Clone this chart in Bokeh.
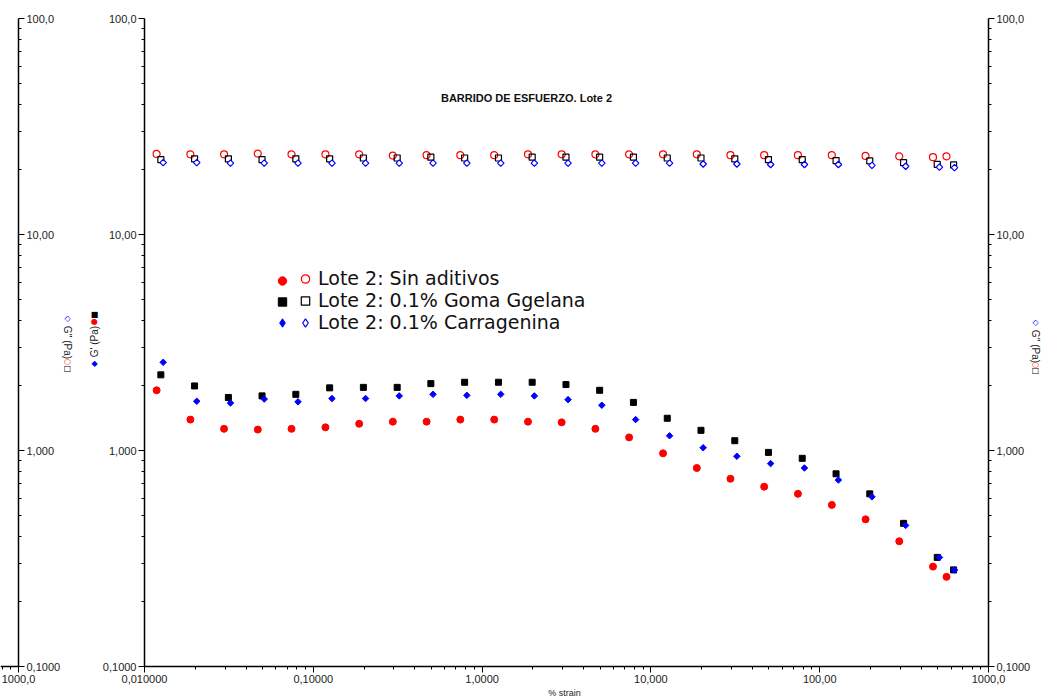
import math
from bokeh.plotting import figure
from bokeh.models import Range1d, FixedTicker, Label, Legend, LegendItem, LogAxis
from bokeh.embed import file_html
from bokeh.resources import INLINE

# ---------------- data ----------------
strain_sin = [0.0118, 0.0187, 0.0296, 0.0469, 0.0743, 0.118, 0.187, 0.296, 0.469, 0.743,
              1.18, 1.87, 2.96, 4.69, 7.43, 11.8, 18.7, 29.6, 46.9, 74.3, 118, 187, 296, 469, 564]
gp_sin = [1.90, 1.39, 1.26, 1.25, 1.26, 1.28, 1.33, 1.36, 1.36, 1.39, 1.39, 1.36, 1.35,
          1.26, 1.15, 0.97, 0.83, 0.74, 0.68, 0.63, 0.56, 0.48, 0.38, 0.29, 0.26]
gpp_sin = [23.6, 23.5, 23.5, 23.7, 23.5, 23.5, 23.5, 23.2, 23.3, 23.3, 23.3, 23.5, 23.5,
           23.5, 23.5, 23.5, 23.5, 23.3, 23.3, 23.3, 23.3, 23.1, 23.0, 22.8, 23.0]

strain_goma = [0.0125, 0.0198, 0.0314, 0.0497, 0.0788, 0.125, 0.198, 0.314, 0.497, 0.788,
               1.25, 1.98, 3.14, 4.97, 7.88, 12.5, 19.8, 31.4, 49.7, 78.8, 125, 198, 314, 497, 621]
gp_goma = [2.24, 1.99, 1.76, 1.79, 1.82, 1.95, 1.96, 1.96, 2.04, 2.07, 2.07, 2.07, 2.02,
           1.90, 1.67, 1.41, 1.24, 1.11, 0.98, 0.92, 0.78, 0.63, 0.46, 0.32, 0.28]
gpp_goma = [22.2, 22.4, 22.4, 22.2, 22.4, 22.4, 22.6, 22.6, 22.8, 22.6, 22.6, 22.8, 22.8,
            22.8, 22.8, 22.6, 22.6, 22.4, 22.2, 22.2, 22.0, 21.9, 21.5, 21.1, 21.0]

strain_carr = [0.0129, 0.0204, 0.0323, 0.0512, 0.0812, 0.129, 0.204, 0.323, 0.512, 0.812,
               1.29, 2.04, 3.23, 5.12, 8.12, 12.9, 20.4, 32.3, 51.2, 81.2, 129, 204, 323, 512, 629]
gp_carr = [2.56, 1.69, 1.66, 1.73, 1.68, 1.74, 1.74, 1.79, 1.82, 1.80, 1.82, 1.79, 1.72,
           1.62, 1.39, 1.17, 1.03, 0.94, 0.87, 0.83, 0.73, 0.61, 0.45, 0.32, 0.28]
gpp_carr = [21.5, 21.5, 21.4, 21.4, 21.4, 21.4, 21.4, 21.4, 21.4, 21.4, 21.4, 21.4, 21.4,
            21.4, 21.4, 21.4, 21.2, 21.2, 21.1, 21.1, 21.1, 20.9, 20.7, 20.5, 20.4]

series_labels = ["Lote 2: Sin aditivos", "Lote 2: 0.1% Goma Ggelana", "Lote 2: 0.1% Carragenina"]
title_text = "BARRIDO DE ESFUERZO. Lote 2"
x_label = "% strain"
y_left_label = "G' (Pa)"
y_right_label = "G'' (Pa)"

x_ticks = [0.01, 0.1, 1, 10, 100, 1000]
x_tick_labels = ["0,010000", "0,10000", "1,0000", "10,000", "100,00", "1000,0"]
y_ticks = [0.1, 1, 10, 100]
y_tick_labels = ["0,1000", "1,000", "10,00", "100,0"]

RED = "#ff0000"
BLUE = "#0000ff"
BLACK = "#000000"
TXT = "#222222"
TICK_FONT = "Liberation Sans"

# ---------------- page geometry (layout only) ----------------
W, H = 1050, 696
PX_LEFT, PX_RIGHT = 144, 988      # x = 0.01 ... 1000
PY_TOP, PY_BOTTOM = 18, 666       # y = 100 ... 0.1
PPD_X = (PX_RIGHT - PX_LEFT) / 5.0
PPD_Y = (PY_BOTTOM - PY_TOP) / 3.0
GHOST_PX = 970                    # ghost copy of the right axis, shifted left
GHOST = 10 ** (-GHOST_PX / PPD_X)

x_start = 10 ** (-2 - PX_LEFT / PPD_X)
x_end = 10 ** (3 + (W - PX_RIGHT) / PPD_X)
y_end = 10 ** (2 + PY_TOP / PPD_Y)
y_start = 10 ** (-1 - (H - PY_BOTTOM) / PPD_Y)

x_minor = [m * 10.0 ** e for e in range(-2, 3) for m in range(2, 10)]
y_minor = [m * 10.0 ** e for e in range(-1, 2) for m in range(2, 10)]

p = figure(width=W, height=H, x_axis_type="log", y_axis_type="log",
           x_range=Range1d(x_start, x_end), y_range=Range1d(y_start, y_end),
           x_axis_location=None, y_axis_location=None,
           output_backend="svg", toolbar_location=None,
           min_border_left=0, min_border_right=0, min_border_top=0, min_border_bottom=0)
p.outline_line_color = None
p.xgrid.visible = False
p.ygrid.visible = False
p.background_fill_color = "white"


def style_axis(ax):
    ax.axis_line_color = BLACK
    ax.axis_line_width = 1.5
    ax.major_tick_out = 6
    ax.major_tick_in = 0
    ax.minor_tick_out = 3
    ax.minor_tick_in = 0
    ax.major_tick_line_color = BLACK
    ax.minor_tick_line_color = BLACK
    ax.major_label_text_font = TICK_FONT
    ax.major_label_text_font_size = "11px"
    ax.major_label_text_color = TXT
    ax.major_label_standoff = 2
    return ax


def y_axis(loc):
    ax = LogAxis(ticker=FixedTicker(ticks=y_ticks, minor_ticks=y_minor),
                 major_label_overrides=dict(zip(y_ticks, y_tick_labels)),
                 bounds=(y_ticks[0], y_ticks[-1]), fixed_location=loc)
    return style_axis(ax)


# main axes
bottom = style_axis(LogAxis(ticker=FixedTicker(ticks=x_ticks, minor_ticks=x_minor),
                            major_label_overrides=dict(zip(x_ticks, x_tick_labels)),
                            bounds=(x_ticks[0], x_ticks[-1]), fixed_location=y_ticks[0]))
p.add_layout(bottom, "below")
p.add_layout(y_axis(x_ticks[0]), "left")
p.add_layout(y_axis(x_ticks[-1]), "right")

# ghost copy of the right axis at the far left edge
p.add_layout(y_axis(x_ticks[-1] * GHOST), "right")
ghost_bottom = style_axis(LogAxis(ticker=FixedTicker(ticks=[x_ticks[-1] * GHOST],
                                                     minor_ticks=[800 * GHOST, 900 * GHOST]),
                                  major_label_overrides={x_ticks[-1] * GHOST: x_tick_labels[-1]},
                                  bounds=(x_start, x_ticks[-1] * GHOST), fixed_location=y_ticks[0]))
p.add_layout(ghost_bottom, "below")

# ---------------- data ----------------
f_sin = p.scatter(strain_sin, gp_sin, marker="circle", size=7, fill_color=RED, line_color=RED)
h_sin = p.scatter(strain_sin, gpp_sin, marker="circle", size=7, fill_color=None, line_color=RED, line_width=1.2)
f_goma = p.scatter(strain_goma, gp_goma, marker="square", size=6, fill_color=BLACK, line_color=BLACK)
h_goma = p.scatter(strain_goma, gpp_goma, marker="square", size=6, fill_color=None, line_color=BLACK, line_width=1.2)
# diamond glyphs used for the legend symbols (sit underneath the rotated squares)
lg_f_carr = p.scatter(strain_carr, gp_carr, marker="diamond", size=4, fill_color=BLUE, line_color=BLUE)
lg_h_carr = p.scatter(strain_carr, gpp_carr, marker="diamond", size=4, fill_color=None, line_color=BLUE, line_width=1.2)
f_carr = p.scatter(strain_carr, gp_carr, marker="square", angle=math.pi / 4, size=4.6,
                   fill_color=BLUE, line_color=BLUE)
h_carr = p.scatter(strain_carr, gpp_carr, marker="square", angle=math.pi / 4, size=4.6,
                   fill_color="white", line_color=BLUE, line_width=1.2)


def make_legend(items, x):
    return Legend(items=items, location=(x, H - 333), orientation="vertical",
                  glyph_width=22, glyph_height=21, label_height=21, spacing=0,
                  padding=0, margin=0, label_standoff=2,
                  label_text_font="DejaVu Sans", label_text_font_size="19px",
                  label_text_color="#111111", border_line_color=None,
                  background_fill_alpha=0)


legend_filled = make_legend([LegendItem(label=" ", renderers=[r]) for r in (f_sin, f_goma, lg_f_carr)], 271)
legend_hollow = make_legend([LegendItem(label=lab, renderers=[r])
                             for lab, r in zip(series_labels, (h_sin, h_goma, lg_h_carr))], 294)
p.add_layout(legend_filled, "center")
p.add_layout(legend_hollow, "center")


def page_label(text, px, py, size="10px", color=TXT, angle=0.0, bold=False,
               align="center", baseline="middle", font=TICK_FONT):
    p.add_layout(Label(x=px, y=H - py, x_units="screen", y_units="screen", text=text,
                       angle=angle, text_font=font, text_font_size=size,
                       text_font_style="bold" if bold else "normal", text_color=color,
                       text_align=align, text_baseline=baseline))


page_label(title_text, 526, 97, size="11px", color="#111111", bold=True)
page_label(x_label, 564, 687, size="9px", baseline="top")

# axis titles with the series symbols around them
page_label(y_left_label, 94, 341, angle=math.pi / 2)
page_label(y_right_label, 1035, 346, angle=-math.pi / 2)
page_label(y_right_label, 67, 342, angle=-math.pi / 2)
for t, c, px, py in [("\u25c6", BLUE, 94, 363), ("\u25cf", RED, 94, 321), ("\u25a0", BLACK, 94, 314),
                     ("\u25c7", BLUE, 1035, 322), ("\u25cb", RED, 1035, 364), ("\u25a1", BLACK, 1035, 370),
                     ("\u25c7", BLUE, 67, 318), ("\u25cb", RED, 67, 361), ("\u25a1", BLACK, 67, 368)]:
    page_label(t, px, py, size="8px", color=c, font="DejaVu Sans")

open("out.html", "w").write(file_html(p, INLINE))
